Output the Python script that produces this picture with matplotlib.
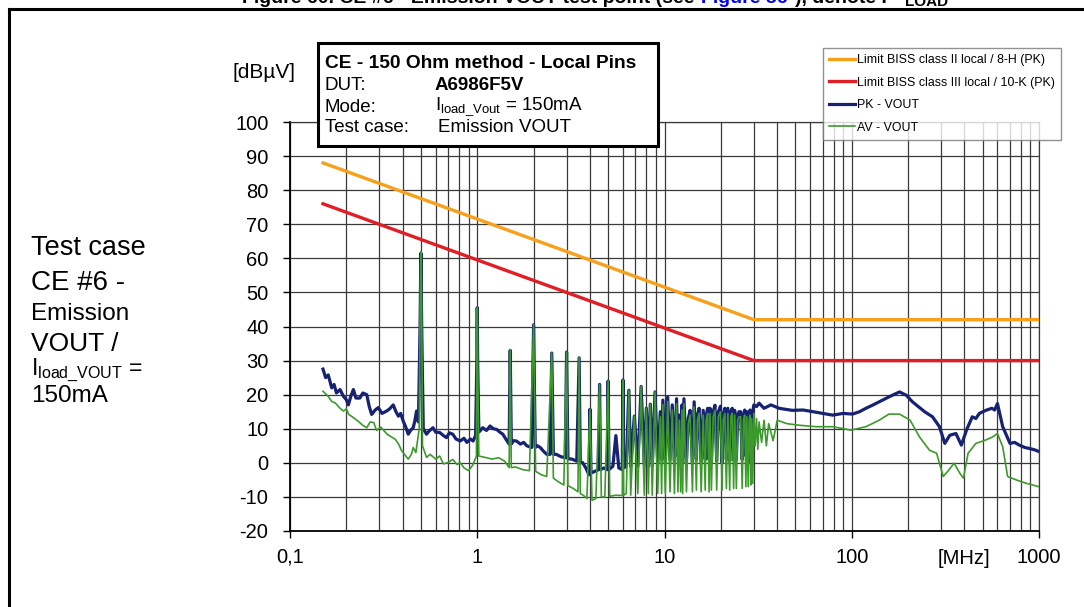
import matplotlib
matplotlib.use("Agg")
import matplotlib.pyplot as plt
from matplotlib.lines import Line2D
from matplotlib.patches import Rectangle
from matplotlib.ticker import FixedLocator, NullFormatter, LogLocator

plt.rcParams['font.family'] = ['Liberation Sans', 'DejaVu Sans']
plt.rcParams['axes.unicode_minus'] = False

# limit lines (MHz, dBuV)
lim2_f = [0.15, 30, 1000]
lim2_db = [88, 42, 42]
lim3_f = [0.15, 30, 1000]
lim3_db = [76, 30, 30]

# PK - VOUT, (MHz, dBuV)
pk_pts = [
    (0.15, 27.5), (0.155, 25), (0.16, 25.8), (0.167, 22), (0.172, 23), (0.177, 20.5),
    (0.185, 21.5), (0.193, 19.5), (0.2, 18.5), (0.205, 17), (0.212, 19.8), (0.218, 21.5),
    (0.225, 19), (0.236, 19), (0.245, 20.5), (0.257, 20), (0.265, 16.5), (0.273, 14.2),
    (0.285, 15.5), (0.296, 16.2), (0.31, 14.5), (0.328, 15.2), (0.34, 15.8), (0.356, 17),
    (0.368, 15), (0.379, 13.7), (0.39, 14.5), (0.402, 12.3), (0.415, 10.5), (0.428, 8.4),
    (0.44, 9.5), (0.455, 10.3), (0.465, 12.5), (0.474, 15.2), (0.485, 12), (0.495, 40),
    (0.5, 61.5), (0.505, 40), (0.515, 10), (0.536, 8.4), (0.55, 9.2), (0.58, 10.3),
    (0.6, 9), (0.63, 8.9), (0.66, 8), (0.685, 7.4), (0.71, 8.8), (0.74, 8.4), (0.77, 7),
    (0.81, 6.4), (0.85, 7.2), (0.88, 6), (0.92, 7), (0.95, 6.4), (0.98, 8), (0.995, 30),
    (1.0, 45.5), (1.005, 30), (1.02, 9), (1.07, 10.3), (1.12, 9.5), (1.17, 10.8),
    (1.22, 10), (1.27, 9.8), (1.32, 9), (1.37, 8.4), (1.42, 7), (1.48, 5.5), (1.5, 33),
    (1.52, 5.5), (1.56, 6.5), (1.62, 6.4), (1.7, 5.5), (1.77, 6), (1.84, 5), (1.95, 4.5),
    (2.0, 40.5), (2.04, 4.5), (2.1, 5), (2.17, 4.5), (2.25, 3.5), (2.35, 2.5), (2.45, 2.5),
    (2.5, 32.2), (2.55, 2.5), (2.64, 2.5), (2.8, 1.8), (2.95, 1.5), (3.0, 32.5), (3.05, 1.2),
    (3.2, 1.1), (3.4, 0.5), (3.5, 30.8), (3.55, 0), (3.65, 0.1), (3.8, -1.5), (3.95, -3.5),
    (4.0, 15.7), (4.05, -3), (4.25, -2.5), (4.45, -2), (4.5, 23), (4.55, -2), (4.75, -1.5),
    (4.95, -2), (5.0, 24), (5.05, -2), (5.3, -1), (5.5, 8), (5.7, -1.5), (5.95, -2),
    (6.0, 24.3), (6.05, -1.5), (6.25, -1), (6.45, 21.3), (6.6, -1), (6.9, 13.7), (7.2, -1),
    (7.5, 22.4), (7.8, -0.5), (8.0, 16), (8.2, -1), (8.4, 17.2), (8.6, -1), (8.9, 20.8),
    (9.2, 0), (9.5, 15), (9.65, 1), (9.8, 18.4), (10.1, 0), (10.4, 19.3), (10.7, 1),
    (11.0, 17), (11.3, 0), (11.6, 18.8), (11.8, 2), (12.0, 14), (12.2, 1), (12.4, 17),
    (12.5, 0), (12.7, 18.8), (13.1, 1), (13.4, 13), (13.7, 15.4), (14.1, 0), (14.4, 17.9),
    (14.8, 1), (15.0, 14), (15.3, 16), (15.7, 0), (16.1, 15.4), (16.5, 1), (16.7, 14),
    (17.0, 16), (17.3, 1), (17.5, 16), (17.8, 0), (18.2, 15), (18.6, 16.9), (19.0, 0.5),
    (19.4, 15), (19.9, 16.6), (20.3, 0), (20.6, 14), (21.0, 16), (21.4, 1), (21.8, 16),
    (22.3, 0.5), (22.6, 15), (23.0, 16), (23.4, 1), (23.7, 15.4), (24.2, 1), (24.6, 14),
    (25.0, 15), (25.5, 15), (26.0, 1), (26.4, 14), (26.8, 15.5), (27.2, 2), (27.5, 15),
    (28.0, 0), (28.3, 14), (28.6, 15.5), (28.9, 3), (29.2, 14.5), (29.6, 15), (30.0, 17),
    (31, 16.5), (32, 17.5), (34, 16), (37, 17), (41, 16), (48, 15.4), (55, 15.5), (62, 15),
    (70, 14.5), (79, 14), (90, 14.5), (101, 14.3), (110, 15), (119, 16), (130, 17),
    (146, 18.4), (160, 19.5), (180, 20.8), (196, 19.8), (210, 18), (222, 16.9), (245, 15),
    (270, 13.5), (294, 10.6), (314, 5.7), (334, 8.1), (360, 8.6), (385, 5.2), (410, 9.6),
    (440, 13.5), (460, 13), (480, 14.5), (520, 15.4), (560, 16), (580, 15.5), (600, 17.4),
    (640, 10.6), (700, 5.7), (740, 6), (785, 5.2), (840, 4.5), (890, 4.2), (950, 3.8),
    (1000, 3.3),
]

# AV - VOUT, (MHz, dBuV)
av_pts = [
    (0.15, 21), (0.16, 19.5), (0.167, 18), (0.175, 17.5), (0.185, 16), (0.193, 15.2),
    (0.2, 15.8), (0.206, 14.2), (0.215, 13.5), (0.23, 12.3), (0.245, 11), (0.257, 10.3),
    (0.268, 12), (0.28, 11.8), (0.29, 9.5), (0.305, 10.5), (0.33, 8.4), (0.35, 7.5),
    (0.365, 6.9), (0.38, 5.5), (0.395, 3.5), (0.415, 2), (0.428, 1.1), (0.445, 2.5),
    (0.455, 4.5), (0.47, 3), (0.49, 10), (0.495, 45), (0.5, 62), (0.505, 45), (0.51, 5),
    (0.536, 1.6), (0.56, 2.5), (0.6, 1.1), (0.63, 2), (0.66, -0.3), (0.7, 0.1), (0.74, 1),
    (0.78, -0.5), (0.81, 0.1), (0.85, -1.5), (0.9, -2.3), (0.95, -0.5), (0.99, 2),
    (0.995, 30), (1.0, 45.5), (1.005, 30), (1.02, 2), (1.1, 1.6), (1.2, 1.1), (1.3, 1.5),
    (1.4, 0.5), (1.48, -1.4), (1.5, 33.2), (1.52, -1.4), (1.6, -1.2), (1.75, -2),
    (1.9, -2.3), (2.0, 40.5), (2.05, -2.5), (2.2, -3.5), (2.35, -4), (2.5, 32.2),
    (2.55, -4.5), (2.7, -5.5), (2.9, -6.5), (3.0, 32.5), (3.05, -6.7), (3.25, -7.5),
    (3.45, -8.5), (3.5, 30.8), (3.55, -9), (3.7, -9.6), (3.85, -10.5), (4.0, 15.7),
    (4.1, -11), (4.3, -10.5), (4.5, 23), (4.6, -10), (4.8, -10), (5.0, 24), (5.1, -9.8),
    (5.5, -9.5), (5.95, -9.6), (6.0, 24.3), (6.05, -9.5), (6.25, -9), (6.45, 21.3),
    (6.6, -9.5), (6.9, 13.7), (7.2, -9), (7.5, 22.4), (7.8, -9.5), (8.0, 16), (8.2, -9),
    (8.4, 17.2), (8.6, -9.5), (8.9, 20.8), (9.2, -9), (9.5, 13.5), (9.65, -9), (9.8, 17),
    (10.1, -9), (10.4, 18), (10.7, -8.5), (11.0, 15.5), (11.3, -9), (11.6, 17.3),
    (11.8, -8.5), (12.0, 12.5), (12.2, -8.5), (12.4, 15.5), (12.5, -9), (12.7, 17.3),
    (13.1, -8.5), (13.4, 11.5), (13.7, 14), (14.1, -8.5), (14.4, 16.4), (14.8, -8),
    (15.0, 12.5), (15.3, 14.5), (15.7, -8.5), (16.1, 14), (16.5, -8), (16.7, 12.5),
    (17.0, 14.5), (17.3, -8.5), (17.5, 14.5), (17.8, -8), (18.2, 13.5), (18.6, 15.4),
    (19.0, -8), (19.4, 13.5), (19.9, 15), (20.3, -8), (20.6, 12.5), (21.0, 14.5),
    (21.4, -7.5), (21.8, 14.5), (22.3, -8), (22.6, 13.5), (23.0, 14.5), (23.4, -7.5),
    (23.7, 14), (24.2, -7.5), (24.6, 12.5), (25.0, 13.5), (25.5, 13.5), (26.0, -7.5),
    (26.4, 12.5), (26.8, 14), (27.2, -7), (27.5, 13.5), (28.0, -7), (28.3, 12.5),
    (28.6, 14), (28.9, -6.5), (29.2, 13), (29.6, -6), (30.0, 14.5), (30.5, 5), (31, 13),
    (31.5, 4), (32, 12), (33, 6), (34, 12.5), (35, 5), (36, 11.5), (38, 6.5), (40, 12.5),
    (45, 11.5), (53, 11), (65, 10.6), (79, 10.6), (99, 9.6), (119, 10.6), (140, 12.5),
    (158, 14.3), (180, 14.3), (205, 12.5), (230, 7.6), (260, 3.7), (284, 2.8), (308, -4),
    (330, -2.1), (352, -0.1), (378, -3.1), (395, -4.5), (418, 2.8), (460, 5.7), (520, 6.7),
    (565, 7.6), (600, 8.6), (640, 4.7), (680, -4), (755, -5), (855, -6), (1000, -7),
]

pk_f = [p[0] for p in pk_pts]
pk_db = [p[1] for p in pk_pts]
av_f = [p[0] for p in av_pts]
av_db = [p[1] for p in av_pts]

legend_labels = ['Limit BISS class II local / 8-H (PK)',
                 'Limit BISS class III local / 10-K (PK)',
                 'PK - VOUT', 'AV - VOUT']
x_ticks = [0.1, 1, 10, 100, 1000]
x_ticklabels = ['0,1', '1', '10', '100', '1000']
y_ticks = list(range(-20, 101, 10))

c_orange = '#F7A11A'
c_red = '#DF1F26'
c_navy = '#172273'
c_green = '#3C9A2C'

fig = plt.figure(figsize=(10.84, 6.07), dpi=100)
W, H = 1084, 607

ax = fig.add_axes([290 / W, 1 - 531 / H, 749 / W, 409 / H])
ax.set_xscale('log')
ax.set_xlim(0.1, 1000)
ax.set_ylim(-20, 100)

ax.plot(lim2_f, lim2_db, color=c_orange, lw=2.4, zorder=3, label=legend_labels[0])
ax.plot(lim3_f, lim3_db, color=c_red, lw=2.4, zorder=3, label=legend_labels[1])
ax.plot(pk_f, pk_db, color=c_navy, lw=2.3, zorder=4, label=legend_labels[2])
ax.plot(av_f, av_db, color=c_green, lw=1.2, zorder=5, label=legend_labels[3])

ax.xaxis.set_major_locator(FixedLocator(x_ticks))
ax.set_xticklabels(x_ticklabels)
ax.xaxis.set_minor_locator(LogLocator(base=10, subs=range(2, 10)))
ax.xaxis.set_minor_formatter(NullFormatter())
ax.set_yticks(y_ticks)
ax.tick_params(axis='both', which='major', direction='out', length=5, width=1,
               labelsize=14.5, color='black')
ax.tick_params(axis='x', which='major', pad=7)
ax.tick_params(axis='y', which='major', pad=10.5)
ax.tick_params(axis='x', which='minor', length=0)
ax.grid(True, which='major', color='#3a3a3a', lw=0.9)
ax.grid(True, which='minor', axis='x', color='#3a3a3a', lw=0.9)
ax.set_axisbelow(True)
for s in ['top', 'right']:
    ax.spines[s].set_color('#3a3a3a')
    ax.spines[s].set_linewidth(0.9)
for s in ['left', 'bottom']:
    ax.spines[s].set_color('black')
    ax.spines[s].set_linewidth(1.3)

fig.text(964 / W, 1 - 558 / H, '[MHz]', fontsize=14.5, ha='center', va='center')
fig.text(264 / W, 1 - 73 / H, '[dB\u00b5V]', fontsize=15, ha='center', va='center')

# legend
leg = fig.legend(loc='upper left', bbox_to_anchor=(823 / W, 1 - 48 / H), fontsize=8.9,
                 frameon=True, fancybox=False, edgecolor='#777777', handlelength=2.1,
                 handletextpad=0.15, labelspacing=0.85, borderpad=0.5, borderaxespad=0)
leg.get_frame().set_linewidth(1.0)
leg.set_zorder(10)

# info box
fig.patches.append(Rectangle((318 / W, 1 - 146 / H), 340 / W, 103 / H, transform=fig.transFigure,
                             facecolor='white', edgecolor='black', lw=2.2, zorder=9))
fig.text(325 / W, 1 - 63 / H, 'CE - 150 Ohm method - Local Pins', fontsize=13.8,
         fontweight='bold', va='center', zorder=11)
fig.text(325 / W, 1 - 85 / H, 'DUT:', fontsize=13.5, va='center', zorder=11)
fig.text(435 / W, 1 - 85 / H, 'A6986F5V', fontsize=13.5, fontweight='bold', va='center', zorder=11)
fig.text(325 / W, 1 - 107 / H, 'Mode:', fontsize=13.5, va='center', zorder=11)
fig.text(435 / W, 1 - 107 / H, r'I$_{\mathregular{load\_Vout}}$ = 150mA', fontsize=13.5,
         va='center', zorder=11)
fig.text(325 / W, 1 - 127 / H, 'Test case:', fontsize=13.5, va='center', zorder=11)
fig.text(438 / W, 1 - 127 / H, 'Emission VOUT', fontsize=13.5, va='center', zorder=11)

# side caption
side = [('Test case', 248, 19.5), ('CE #6 -', 283, 20), ('Emission', 314, 17.5),
        ('VOUT /', 344, 19)]
for txt, yy, fs in side:
    fig.text(31 / W, 1 - yy / H, txt, fontsize=fs, va='center')
fig.text(31 / W, 1 - 370 / H, r'I$_{\mathregular{load\_VOUT}}$ =', fontsize=16.5, va='center')
fig.text(31 / W, 1 - 396 / H, '150mA', fontsize=17.5, va='center')

# frame around the figure
fig.add_artist(Line2D([9 / W, 9 / W], [0, 1 - 9 / H], transform=fig.transFigure,
                      color='black', lw=2.2))
fig.add_artist(Line2D([9 / W, 1], [1 - 9 / H, 1 - 9 / H], transform=fig.transFigure,
                      color='black', lw=2.2))

# title line, cut off at the top of the image
fig.text(700 / W, 1 - 3 / H, 'Figure 60. CE #6 - Emission VOUT test point (see ', fontsize=14,
         fontweight='bold', ha='right', va='baseline')
fig.text(701 / W, 1 - 3 / H, 'Figure 56', fontsize=14, fontweight='bold', color='blue',
         va='baseline')
fig.text(795 / W, 1 - 3 / H, '), denote I', fontsize=14, fontweight='bold', va='baseline')
fig.text(905 / W, 1 - 6 / H, 'LOAD', fontsize=11, fontweight='bold', va='baseline')

fig.savefig('out.png', dpi=100)
